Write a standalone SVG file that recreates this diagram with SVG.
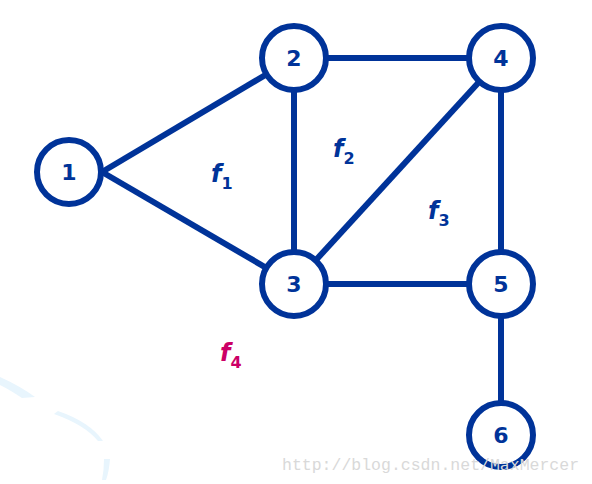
<svg xmlns="http://www.w3.org/2000/svg" width="592" height="484" viewBox="0 0 592 484">
<style>
.e{stroke:#003399;stroke-width:6;fill:none}
.n{fill:#fff;stroke:#003399;stroke-width:6}
.t{font-family:"DejaVu Sans",Verdana,sans-serif;font-weight:bold;font-size:22px;fill:#003399;text-anchor:middle}
.f{font-family:"DejaVu Sans",Verdana,sans-serif;font-weight:bold;font-style:italic;font-size:24px;fill:#003399}
.s{font-style:normal;font-size:16px}
.m{fill:#cc0066}
.w{font-family:"Liberation Mono",monospace;font-size:16.5px;fill:#d9d9d9}
.deco{fill:#e8f5fd}
</style>
<path class="deco" d="M0,377 Q20,386 35,397 L22,398 Q10,390 0,385 Z"/>
<path class="deco" d="M58,411 Q90,422 103,441 L98,441 Q85,425 54,414 Z"/>
<path class="deco" d="M104,459 L110,459 Q109,472 106,480 L102,480 Q104,470 104,459 Z"/>
<g id="connectors">
<line class="e" x1="102" y1="172" x2="294" y2="58"/>
<line class="e" x1="102" y1="172" x2="294" y2="284"/>
<line class="e" x1="294" y1="58" x2="501" y2="58"/>
<line class="e" x1="294" y1="58" x2="294" y2="284"/>
<line class="e" x1="294" y1="284" x2="501" y2="58"/>
<line class="e" x1="294" y1="284" x2="501" y2="284"/>
<line class="e" x1="501" y1="58" x2="501" y2="284"/>
<line class="e" x1="501" y1="284" x2="501" y2="435"/>
</g>
<g id="n1"><circle class="n" cx="69" cy="172" r="32"/><text class="t" x="69" y="180">1</text></g>
<g id="n2"><circle class="n" cx="294" cy="58" r="32"/><text class="t" x="294" y="66">2</text></g>
<g id="n3"><circle class="n" cx="294" cy="284" r="32"/><text class="t" x="294" y="292">3</text></g>
<g id="n4"><circle class="n" cx="501" cy="58" r="32"/><text class="t" x="501" y="66">4</text></g>
<g id="n5"><circle class="n" cx="501" cy="284" r="32"/><text class="t" x="501" y="292">5</text></g>
<g id="n6"><circle class="n" cx="501" cy="435" r="32"/><text class="t" x="501" y="443">6</text></g>
<g id="faces">
<text class="f" x="211" y="182">f<tspan class="s" dy="7">1</tspan></text>
<text class="f" x="333" y="157">f<tspan class="s" dy="7">2</tspan></text>
<text class="f" x="428" y="219">f<tspan class="s" dy="7">3</tspan></text>
<text class="f m" x="220" y="361">f<tspan class="s" dy="7">4</tspan></text>
</g>
<text class="w" x="282" y="470">http://blog.csdn.net/MaxMercer</text>
</svg>
